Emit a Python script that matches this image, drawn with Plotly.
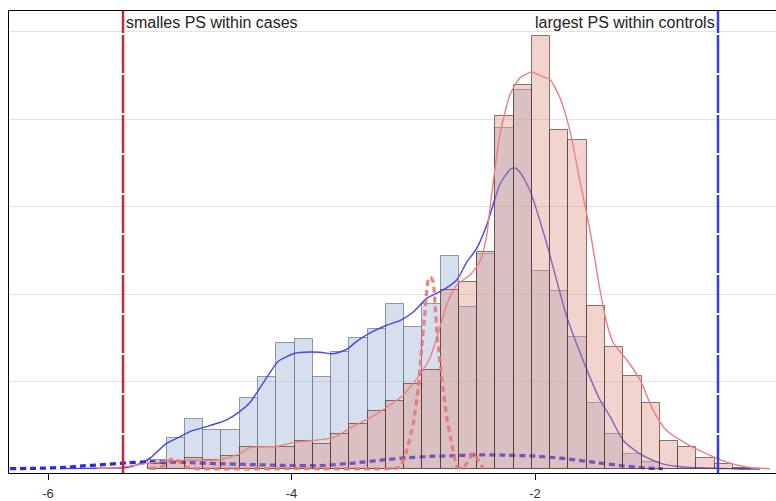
import numpy as np
import plotly.graph_objects as go

# ---- histogram bins (log propensity score) ----
BIN_START = -5.175
BIN_WIDTH = 0.15
N_BINS = 33

# percent of subjects per bin
controls_pct = [0.25, 0.89, 1.44, 1.12, 1.12, 2.02, 2.63, 3.60, 3.73, 2.63,
                3.34, 3.74, 3.99, 4.71, 4.05, 4.72, 6.10, 4.62, 6.15, 9.74,
                10.83, 5.67, 5.08, 3.78, 1.90, 0.99, 0.43, 0.21, 0.0, 0.0,
                0.0, 0.0, 0.0]
cases_pct = [0.15, 0.20, 0.32, 0.25, 0.36, 0.63, 0.64, 0.63, 0.80, 0.72,
             1.00, 1.29, 1.65, 1.95, 2.44, 2.84, 5.12, 5.36, 6.21, 10.09,
             10.97, 12.37, 9.69, 9.40, 4.67, 3.49, 2.66, 1.88, 0.80, 0.63,
             0.32, 0.15, 0.04]

# kernel density, controls
kde_ctrl_x = [-5.902, -5.573, -5.354, -5.244, -5.162, -5.107, -5.025, -4.932, -4.834, -4.670,
              -4.532, -4.423, -4.341, -4.204, -4.108, -3.985, -3.903, -3.766, -3.657, -3.547,
              -3.470, -3.355, -3.218, -3.109, -3.000, -2.890, -2.753, -2.643, -2.561, -2.479,
              -2.397, -2.329, -2.287, -2.205, -2.164, -2.123, -2.041, -1.904, -1.740, -1.575,
              -1.466, -1.384, -1.275, -1.138, -0.973, -0.782, -0.371, -0.152]
kde_ctrl_y = [0.011, 0.023, 0.043, 0.156, 0.313, 0.483, 0.739, 0.895, 1.071, 1.241,
              1.406, 1.648, 1.903, 2.614, 3.082, 3.295, 3.338, 3.338, 3.295, 3.418,
              3.636, 3.892, 4.111, 4.241, 4.489, 4.878, 5.122, 5.406, 5.909, 6.307,
              6.969, 7.727, 8.153, 8.560, 8.608, 8.486, 7.963, 6.449, 4.367, 2.849,
              1.974, 1.506, 0.815, 0.435, 0.170, 0.057, 0.009, 0.0]

# kernel density, cases
kde_case_x = [-5.598, -5.384, -5.162, -4.916, -4.588, -4.423, -4.341, -4.122, -3.985, -3.821,
              -3.657, -3.492, -3.355, -3.218, -3.082, -2.945, -2.862, -2.807, -2.725, -2.643,
              -2.534, -2.452, -2.397, -2.370, -2.329, -2.287, -2.205, -2.123, -2.027, -1.945,
              -1.877, -1.795, -1.713, -1.630, -1.548, -1.466, -1.411, -1.357, -1.247, -1.138,
              -1.028, -0.919, -0.754, -0.590, -0.425, -0.261, -0.070]
kde_case_y = [0.014, 0.057, 0.170, 0.247, 0.264, 0.440, 0.611, 0.645, 0.753, 0.815,
              0.895, 1.222, 1.463, 1.761, 2.116, 2.707, 3.182, 3.750, 4.696, 5.264,
              5.548, 5.937, 6.676, 7.443, 8.580, 9.574, 10.710, 11.185, 11.350, 11.230,
              11.136, 10.616, 9.668, 8.210, 6.818, 5.114, 4.176, 3.608, 3.125, 2.557,
              1.668, 1.099, 0.719, 0.435, 0.199, 0.057, 0.009]

# secondary density, controls (dotted)
dens2_ctrl_x = [-6.312, -6.066, -5.846, -5.710, -5.573, -5.354, -5.162, -4.861, -4.614, -4.341,
                -4.067, -3.766, -3.492, -3.218, -3.060, -2.862, -2.698, -2.493, -2.287, -2.041,
                -1.772, -1.554, -1.335, -1.115, -0.951]
dens2_ctrl_y = [0.009, 0.023, 0.051, 0.091, 0.119, 0.176, 0.205, 0.185, 0.156, 0.128,
                0.105, 0.099, 0.170, 0.270, 0.318, 0.361, 0.378, 0.403, 0.398, 0.375,
                0.304, 0.213, 0.114, 0.037, 0.009]

# secondary density, cases (dotted)
dens2_case_x = [-5.162, -5.080, -5.031, -4.998, -4.957, -4.916, -4.861, -4.793, -3.930, -3.191,
                -3.109, -3.054, -3.000, -2.959, -2.931, -2.903, -2.876, -2.857, -2.835, -2.821,
                -2.802, -2.766, -2.725, -2.684, -2.643, -2.602, -2.575, -2.548, -2.507, -2.466,
                -2.425]
dens2_case_y = [0.009, 0.043, 0.142, 0.264, 0.293, 0.199, 0.043, 0.009, 0.009, 0.009,
                0.057, 0.531, 1.287, 2.330, 3.466, 4.508, 5.426, 5.483, 5.341, 4.696,
                3.750, 2.614, 1.477, 0.719, 0.085, 0.009, 0.085, 0.247, 0.435, 0.247,
                0.009]

# reference lines
min_ps_cases = -5.384
max_ps_controls = -0.497

x_ticks = [-6, -4, -2, 0]
x_tick_text = ["-6", "-4", "-2", "0"]
y_grid = [2.5, 5.0, 7.5, 10.0, 12.5]

X_RANGE = [-6.3203, -0.0205]
Y_RANGE = [-0.114, 13.097]

FONT = "Arial, Liberation Sans, sans-serif"

centers = BIN_START + BIN_WIDTH * (np.arange(N_BINS) + 0.5)

fig = go.Figure()

# controls: histogram and densities on the base axes
fig.add_trace(go.Bar(
    x=centers, y=controls_pct, width=BIN_WIDTH,
    marker=dict(color="rgba(165,185,215,0.45)",
                line=dict(color="rgba(110,120,135,0.75)", width=1)),
    xaxis="x", yaxis="y", showlegend=False))
fig.add_trace(go.Scatter(
    x=kde_ctrl_x, y=kde_ctrl_y, mode="lines",
    line=dict(color="#4646e8", width=1.4, shape="spline", smoothing=0.6),
    xaxis="x", yaxis="y", showlegend=False))
fig.add_trace(go.Scatter(
    x=dens2_ctrl_x, y=dens2_ctrl_y, mode="lines",
    line=dict(color="#2a2ae6", width=3.2, dash="6px,4px", shape="spline", smoothing=0.6),
    xaxis="x", yaxis="y", showlegend=False))

# cases: histogram and densities on an overlaid pair of axes (drawn above)
fig.add_trace(go.Bar(
    x=centers, y=cases_pct, width=BIN_WIDTH,
    marker=dict(color="rgba(222,148,133,0.40)",
                line=dict(color="rgba(85,45,45,0.65)", width=1)),
    xaxis="x2", yaxis="y2", showlegend=False))
fig.add_trace(go.Scatter(
    x=kde_case_x, y=kde_case_y, mode="lines",
    line=dict(color="#f07f7f", width=1.4, shape="spline", smoothing=0.6),
    xaxis="x2", yaxis="y2", showlegend=False))
fig.add_trace(go.Scatter(
    x=dens2_case_x, y=dens2_case_y, mode="lines",
    line=dict(color="rgba(240,115,115,0.9)", width=3.2, dash="6px,4px",
              shape="spline", smoothing=0.4),
    xaxis="x2", yaxis="y2", showlegend=False))

fig.add_shape(type="line", xref="x2", yref="paper", x0=min_ps_cases, x1=min_ps_cases,
              y0=0, y1=1, line=dict(color="#c4283c", width=2.5, dash="38px,2px"), layer="above")
fig.add_shape(type="line", xref="x2", yref="paper", x0=max_ps_controls, x1=max_ps_controls,
              y0=0, y1=1, line=dict(color="#3c3ce6", width=2.5, dash="38px,2px"), layer="above")

fig.add_annotation(x=min_ps_cases, y=1, xref="x2", yref="paper", xanchor="left", yanchor="top",
                   text="smalles PS within cases", showarrow=False, xshift=1, yshift=-0.5,
                   font=dict(family=FONT, size=16, color="#222"))
fig.add_annotation(x=max_ps_controls, y=1, xref="x2", yref="paper", xanchor="right", yanchor="top",
                   text="largest PS within controls", showarrow=False, xshift=-1, yshift=-0.5,
                   font=dict(family=FONT, size=16, color="#222"))

fig.update_layout(
    width=776, height=501,
    margin=dict(l=9, r=0, t=11, b=25),
    paper_bgcolor="white", plot_bgcolor="white",
    barmode="overlay", bargap=0,
    font=dict(family=FONT, size=13, color="#333"),
    xaxis=dict(range=X_RANGE, tickvals=x_ticks, ticktext=x_tick_text,
               showgrid=False, zeroline=False, showline=True, linecolor="black",
               linewidth=1, mirror=True, ticks="outside", ticklen=6, tickcolor="black",
               ticklabelstandoff=2, tickfont=dict(size=13, color="#333")),
    yaxis=dict(range=Y_RANGE, tickvals=y_grid, showticklabels=False,
               showgrid=True, gridcolor="#e3e3e3", gridwidth=1, zeroline=False,
               showline=True, linecolor="black", linewidth=1, ticks=""),
    xaxis2=dict(range=X_RANGE, overlaying="x", visible=False),
    yaxis2=dict(range=Y_RANGE, overlaying="y", visible=False),
)

fig.write_html("out.html")
